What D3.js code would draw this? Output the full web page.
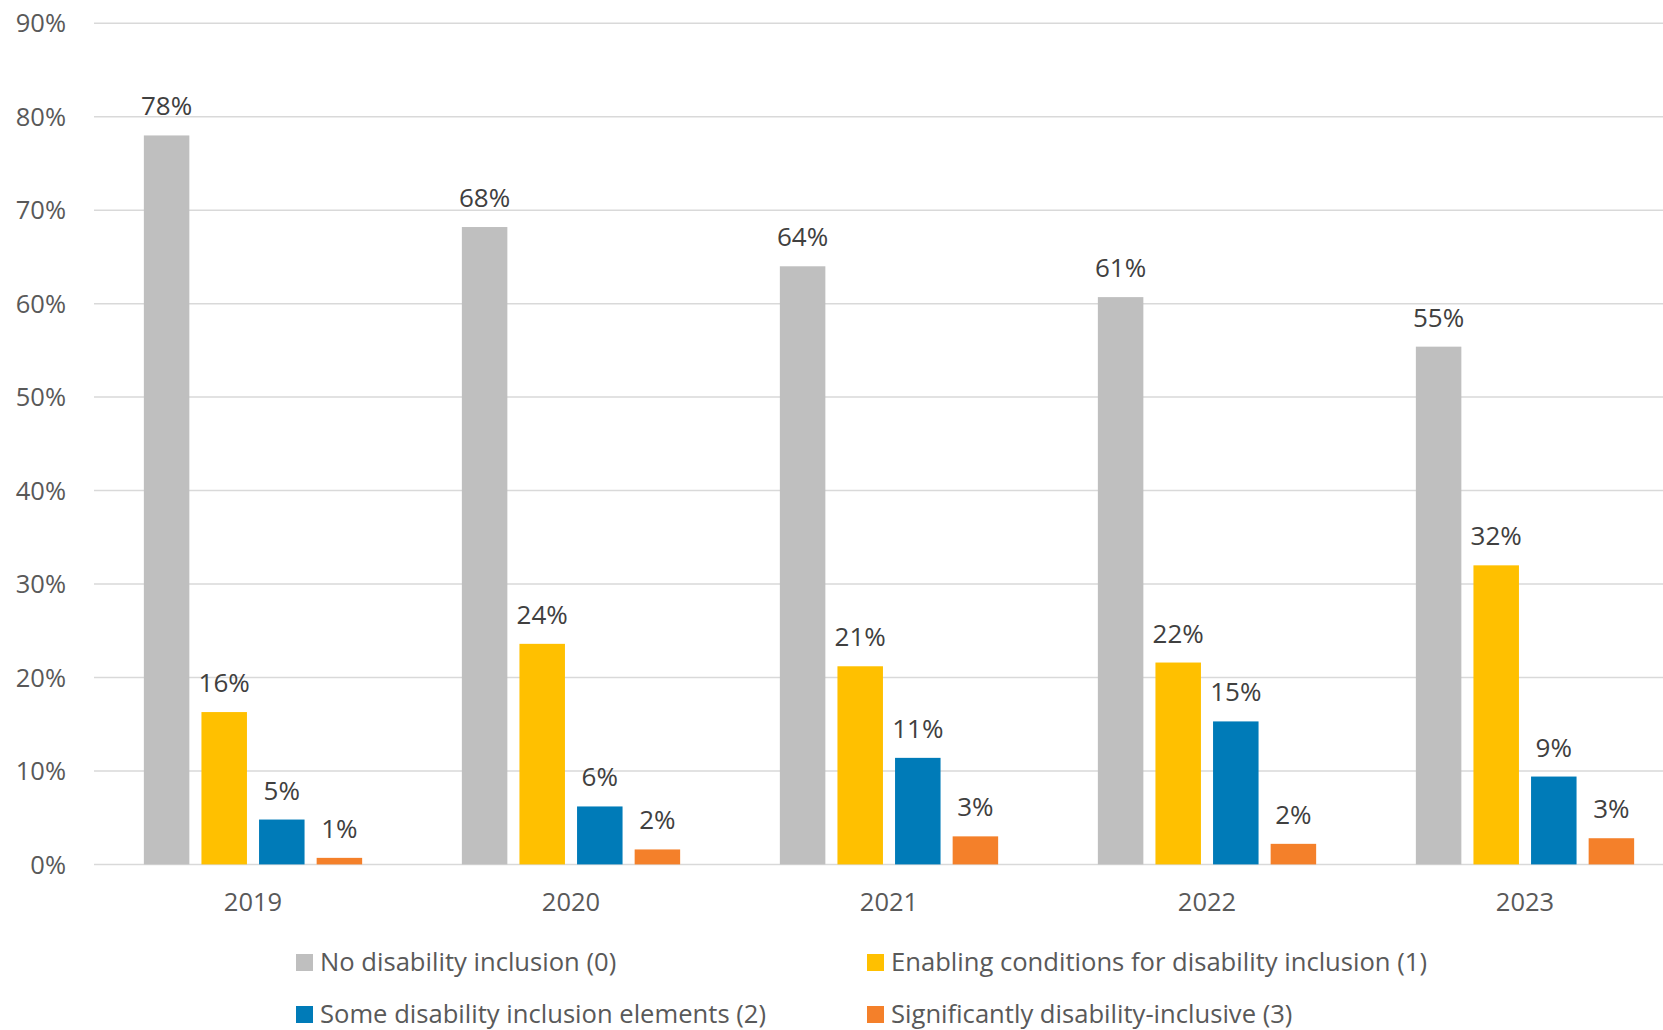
<!DOCTYPE html>
<html>
<head>
<meta charset="utf-8">
<script src="https://cdn.jsdelivr.net/npm/d3@7"></script>
<style>
	body{margin:0;background:#fff;}
	svg text{font-family:"Open Sans",sans-serif;}
	.grid line{stroke:#d9d9d9;stroke-width:1.5;}
	.ejeY text{fill:#595959;font-size:25.5px;}
	.ejeX text{fill:#595959;font-size:25.5px;}
	.etiqueta{fill:#404040;font-size:26px;}
	.leyenda text{fill:#595959;font-size:25.6px;}
</style>
</head>
<body>
<div id="grafico"></div>
<script>
// datos (porcentajes)
var anios = ["2019","2020","2021","2022","2023"];
var series = ["No disability inclusion (0)",
			  "Enabling conditions for disability inclusion (1)",
			  "Some disability inclusion elements (2)",
			  "Significantly disability-inclusive (3)"];
var sinInclusion   = [78.0, 68.2, 64.0, 60.7, 55.4];
var condiciones    = [16.3, 23.6, 21.2, 21.6, 32.0];
var elementos      = [4.8, 6.2, 11.4, 15.3, 9.4];
var significativo  = [0.7, 1.6, 3.0, 2.2, 2.8];
var ticksY = [0,10,20,30,40,50,60,70,80,90];

var colores = ["#bfbfbf","#ffc000","#007bb8","#f4802a"];
var valores = [sinInclusion, condiciones, elementos, significativo];

var width = 1663, height = 1030;
var svg = d3.select("#grafico").append("svg")
	.attr("width",width)
	.attr("height",height);

var y = d3.scaleLinear().domain([0,90]).range([864.4,23.3]);
// el area del grafico sigue mas alla del borde derecho
var x0 = d3.scaleBand().domain(anios).range([94,94+5*318]);
var anchoGrupo = 218.3;
var x1 = d3.scaleBand().domain(d3.range(series.length))
	.range([0,anchoGrupo]).paddingInner(0.21);
var offsetGrupo = (x0.bandwidth()-anchoGrupo)/2;

/*lineas de la grilla*/
var grid = svg.append("g").attr("class","grid");
grid.selectAll("line").data(ticksY).enter().append("line")
	.attr("x1",94)
	.attr("x2",width)
	.attr("y1",function(d){return y(d);})
	.attr("y2",function(d){return y(d);});

//eje y
var ejeY = svg.append("g").attr("class","ejeY");
ejeY.selectAll("text").data(ticksY).enter().append("text")
	.attr("x",66)
	.attr("y",function(d){return y(d);})
	.attr("dy","0.36em")
	.attr("text-anchor","end")
	.text(function(d){return d+"%";});

//barras
var grupos = svg.selectAll(".anio").data(anios).enter().append("g")
	.attr("class","anio")
	.attr("transform",function(d){return "translate("+(x0(d)+offsetGrupo)+",0)";});

grupos.selectAll("rect").data(function(d,i){
		return valores.map(function(s,j){return {serie:j,valor:s[i]};});
	}).enter().append("rect")
	.attr("x",function(d){return x1(d.serie);})
	.attr("y",function(d){return y(d.valor);})
	.attr("width",x1.bandwidth())
	.attr("height",function(d){return y(0)-y(d.valor);})
	.attr("fill",function(d){return colores[d.serie];});

grupos.selectAll(".etiqueta").data(function(d,i){
		return valores.map(function(s,j){return {serie:j,valor:s[i]};});
	}).enter().append("text")
	.attr("class","etiqueta")
	.attr("x",function(d){return x1(d.serie)+x1.bandwidth()/2;})
	.attr("y",function(d){return y(d.valor)-20;})
	.attr("text-anchor","middle")
	.text(function(d){return Math.round(d.valor)+"%";});

//eje x
var ejeX = svg.append("g").attr("class","ejeX");
ejeX.selectAll("text").data(anios).enter().append("text")
	.attr("x",function(d){return x0(d)+x0.bandwidth()/2;})
	.attr("y",911)
	.attr("text-anchor","middle")
	.text(function(d){return d;});

//leyenda
var posLeyenda = [{px:296,py:954},{px:867,py:954},{px:296,py:1006},{px:867,py:1006}];
var leyenda = svg.append("g").attr("class","leyenda");
var items = leyenda.selectAll("g").data(series).enter().append("g")
	.attr("transform",function(d,i){return "translate("+posLeyenda[i].px+","+posLeyenda[i].py+")";});
items.append("rect")
	.attr("width",17)
	.attr("height",17)
	.attr("fill",function(d,i){return colores[i];});
items.append("text")
	.attr("x",24)
	.attr("y",17)
	.text(function(d){return d;});
</script>
</body>
</html>
